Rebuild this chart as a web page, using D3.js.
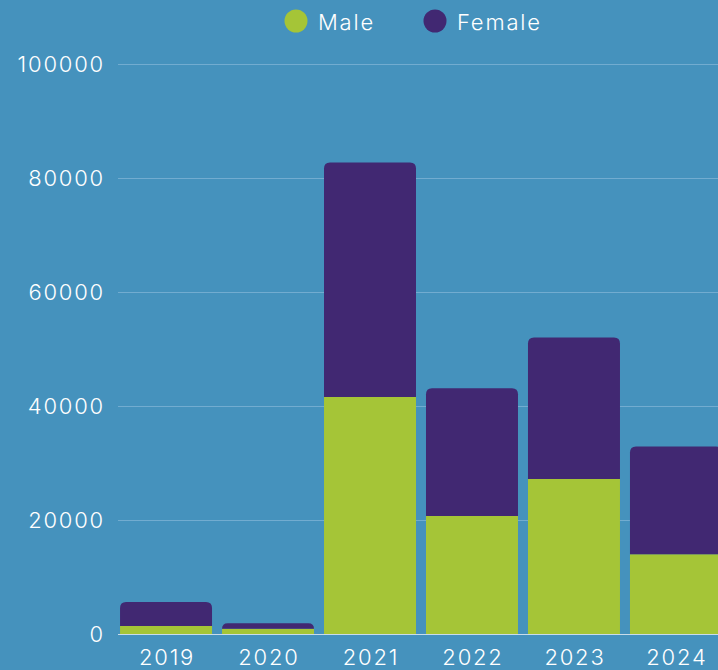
<!DOCTYPE html>
<html>
<head>
<meta charset="utf-8">
<script src="https://cdn.jsdelivr.net/npm/d3@7"></script>
<style>
  html, body { margin: 0; padding: 0; background: #4592bd; overflow: hidden; }
  svg { display: block; }
  text { font-family: Inter, "Open Sans", sans-serif; font-weight: 300; fill: #ffffff; letter-spacing: 1.8px; }
</style>
</head>
<body>
<div id="chart"></div>
<script>
// data
var years = ["2019", "2020", "2021", "2022", "2023", "2024"];
var male = [1400, 900, 41600, 20700, 27200, 14000];
var female = [4200, 1000, 41100, 22400, 24800, 18900];
var seriesNames = ["Male", "Female"];
var seriesColors = ["#a5c537", "#412872"];
var yTicks = [0, 20000, 40000, 60000, 80000, 100000];

var width = 718, height = 670;
var svg = d3.select("#chart").append("svg")
    .attr("width", width)
    .attr("height", height);

var rows = years.map(function(y, i) {
    return { year: y, Male: male[i], Female: female[i] };
});
var stacked = d3.stack().keys(seriesNames)(rows);

var xScale = d3.scaleBand()
    .domain(years)
    .range([118, 724])
    .paddingInner(0.098)
    .paddingOuter(0.02);
var yScale = d3.scaleLinear()
    .domain([0, 100000])
    .range([634, 64]);

// gridlines
svg.append("g")
    .selectAll("line")
    .data(yTicks)
    .enter().append("line")
    .attr("x1", 118)
    .attr("x2", width)
    .attr("y1", d => yScale(d) + 0.5)
    .attr("y2", d => yScale(d) + 0.5)
    .attr("stroke", d => d === 0 ? "#c9dcea" : "#72acd0")
    .attr("stroke-width", 1);

// y labels (trailing letter-spacing compensated)
svg.append("g")
    .selectAll("text")
    .data(yTicks)
    .enter().append("text")
    .attr("x", 105)
    .attr("y", d => yScale(d))
    .attr("dy", "0.36em")
    .attr("text-anchor", "end")
    .style("font-size", "22px")
    .text(d => d);

// x labels
svg.append("g")
    .selectAll("text")
    .data(years)
    .enter().append("text")
    .attr("x", d => xScale(d) + xScale.bandwidth() / 2 + 1)
    .attr("y", 657)
    .attr("dy", "0.36em")
    .attr("text-anchor", "middle")
    .style("font-size", "22px")
    .text(d => d);

// rounded top corners for the top segment only
function topRounded(x, y, w, h, r) {
    r = Math.min(r, h, w / 2);
    return "M" + x + "," + (y + h)
        + "V" + (y + r)
        + "Q" + x + "," + y + " " + (x + r) + "," + y
        + "H" + (x + w - r)
        + "Q" + (x + w) + "," + y + " " + (x + w) + "," + (y + r)
        + "V" + (y + h) + "Z";
}

stacked.forEach(function(layer, li) {
    var g = svg.append("g").attr("fill", seriesColors[li]);
    g.selectAll("path")
        .data(layer)
        .enter().append("path")
        .attr("d", function(d) {
            var x = xScale(d.data.year);
            var y0 = yScale(d[0]), y1 = yScale(d[1]);
            var r = li === seriesNames.length - 1 ? 6 : 0;
            return topRounded(x, y1, xScale.bandwidth(), y0 - y1, r);
        });
});

// legend
var legendX = [296, 435];
var legend = svg.append("g");
seriesNames.forEach(function(name, i) {
    legend.append("circle")
        .attr("cx", legendX[i])
        .attr("cy", 21)
        .attr("r", 11.5)
        .attr("fill", seriesColors[i]);
    legend.append("text")
        .attr("x", legendX[i] + 22)
        .attr("y", 22)
        .attr("dy", "0.36em")
        .style("font-size", "22px")
        .text(name);
});
</script>
</body>
</html>
